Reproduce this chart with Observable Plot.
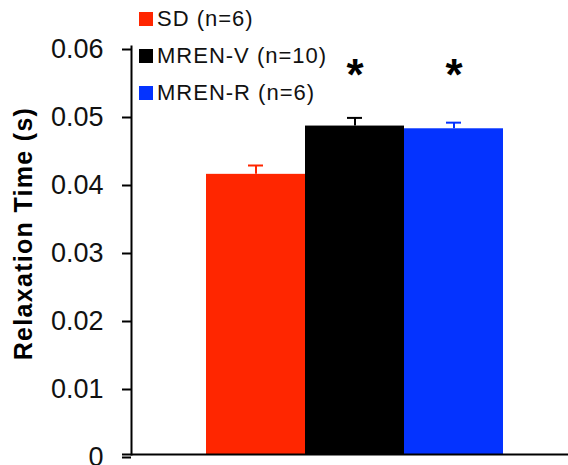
<!DOCTYPE html>
<html>
<head>
<meta charset="utf-8">
<script src="https://cdn.jsdelivr.net/npm/d3@7"></script>
<script src="https://cdn.jsdelivr.net/npm/@observablehq/plot@0.6"></script>
<style>
  html, body { margin: 0; padding: 0; background: #fff; }
  #wrap { position: relative; width: 568px; height: 465px; overflow: hidden; font-family: "Liberation Sans", Arial, sans-serif; }
  #legend { position: absolute; left: 139px; top: 0px; }
  .row { display: flex; align-items: center; height: 37px; font-size: 22px; letter-spacing: 1px; color: #111; }
  .sw { width: 14px; height: 14px; margin-right: 4px; }
</style>
</head>
<body>
<div id="wrap"><div id="legend"></div></div>
<script>
const groups = ["SD", "MREN-V", "MREN-R"];
const legendLabels = ["SD (n=6)", "MREN-V (n=10)", "MREN-R (n=6)"];
const colors = ["#ff2600", "#000000", "#0433ff"];
const means = [0.0412, 0.0483, 0.0479];
const errors = [0.0013, 0.0012, 0.0009];
const significant = ["MREN-V", "MREN-R"];
const yTicks = [0, 0.01, 0.02, 0.03, 0.04, 0.05, 0.06];
const yTickLabels = ["0", "0.01", "0.02", "0.03", "0.04", "0.05", "0.06"];
const yLabel = "Relaxation Time (s)";

const data = groups.map((g, i) => ({group: g, mean: means[i], err: errors[i], color: colors[i]}));

const chart = Plot.plot({
  width: 568,
  height: 465,
  marginLeft: 131,
  marginRight: 0,
  marginTop: 46,
  marginBottom: 11,
  style: {fontFamily: "'Liberation Sans', Arial, sans-serif", background: "#fff"},
  x: {domain: groups, axis: null, paddingInner: 0, paddingOuter: 0.692, align: 0.536},
  y: {domain: [0, 0.06], axis: null},
  marks: [
    Plot.barY(data, {x: "group", y: "mean", fill: "color"}),
    Plot.ruleX(data, {x: "group", y1: "mean", y2: d => d.mean + d.err, stroke: "color", strokeWidth: 2}),
    Plot.tickY(data, {x: "group", y: d => d.mean + d.err, stroke: "color", strokeWidth: 2, insetLeft: 42, insetRight: 42}),
    Plot.axisY({
      ticks: yTicks,
      tickFormat: (d) => yTickLabels[yTicks.indexOf(d)],
      tickSize: 9,
      tickPadding: 19,
      strokeWidth: 2,
      fontSize: 27,
      dy: 3,
      fill: "#111",
      label: null
    }),
    Plot.frame({anchor: "left", stroke: "black", strokeWidth: 2}),
    Plot.ruleY([0], {stroke: "black", strokeWidth: 2, insetLeft: -9}),
    Plot.text(significant, {x: d => d, text: () => "*", frameAnchor: "top", dy: 12, fontSize: 44, fontWeight: "bold", fill: "black"}),
    Plot.text([yLabel], {text: d => d, frameAnchor: "left", textAnchor: "middle", dx: -108, dy: -17, rotate: -90, fontSize: 25, fontWeight: "bold", fill: "black"})
  ]
});

d3.select(chart).selectAll("text").filter(function() { return this.textContent === yLabel; })
  .style("letter-spacing", "1.3px");

document.getElementById("wrap").prepend(chart);

const legend = document.getElementById("legend");
legendLabels.forEach((lab, i) => {
  const row = document.createElement("div");
  row.className = "row";
  const sw = document.createElement("div");
  sw.className = "sw";
  sw.style.background = colors[i];
  const t = document.createElement("span");
  t.textContent = lab;
  row.appendChild(sw);
  row.appendChild(t);
  legend.appendChild(row);
});
</script>
</body>
</html>
